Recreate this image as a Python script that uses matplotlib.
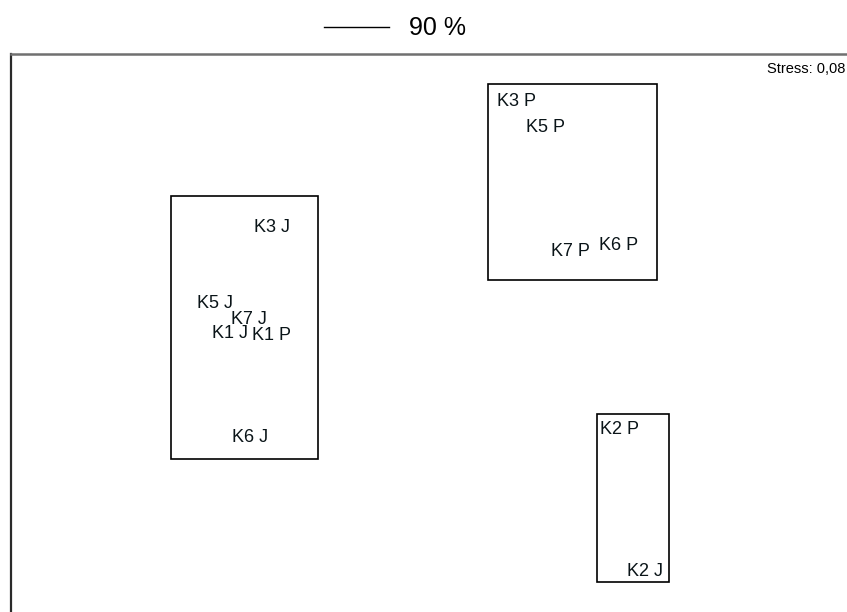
import matplotlib.pyplot as plt
from matplotlib.patches import Rectangle

plt.rcParams['font.family'] = ['Liberation Sans', 'DejaVu Sans']

# sample labels and their ordination positions
labels = ['K3 P', 'K5 P', 'K7 P', 'K6 P', 'K3 J', 'K5 J', 'K7 J',
          'K1 J', 'K1 P', 'K6 J', 'K2 P', 'K2 J']
xs = [486, 515, 540, 588, 243, 186, 220, 201, 241, 221, 589, 616]
ys = [510, 484, 361, 367, 385, 309, 293, 278, 277, 174, 183, 41]

# 90 % similarity groups: (x0, y0, width, height)
groups = [(160, 153, 147, 263),
          (477, 332, 169, 196),
          (586, 30, 72, 168)]

stress = 'Stress: 0,08'
legend_label = '90 %'

fig = plt.figure(figsize=(8.47, 6.12), dpi=100)
ax = fig.add_axes([11 / 847, 0, 1 - 11 / 847, 1 - 54 / 612])
ax.set_xlim(0, 836)
ax.set_ylim(0, 558)
ax.set_xticks([])
ax.set_yticks([])
ax.spines['right'].set_visible(False)
ax.spines['bottom'].set_visible(False)
ax.spines['top'].set_color('#707070')
ax.spines['top'].set_linewidth(1.8)
ax.spines['left'].set_color('#2a2a2a')
ax.spines['left'].set_linewidth(1.6)

for x0, y0, w, h in groups:
    ax.add_patch(Rectangle((x0, y0), w, h, fill=False, edgecolor='black', linewidth=1.2))

for lab, x, y in zip(labels, xs, ys):
    ax.text(x, y, lab, fontsize=13, color='#0a1418', ha='left', va='center')

ax.text(0.998, 0.985, stress, transform=ax.transAxes, fontsize=10.5,
        ha='right', va='top')

# legend above the frame
fig.lines.append(plt.Line2D([324 / 847, 389 / 847], [1 - 27 / 612] * 2,
                            color='black', linewidth=1.0, transform=fig.transFigure))
fig.text(409 / 847, 1 - 28 / 612, legend_label, fontsize=18, ha='left', va='center')

fig.savefig('out.png', dpi=100)
